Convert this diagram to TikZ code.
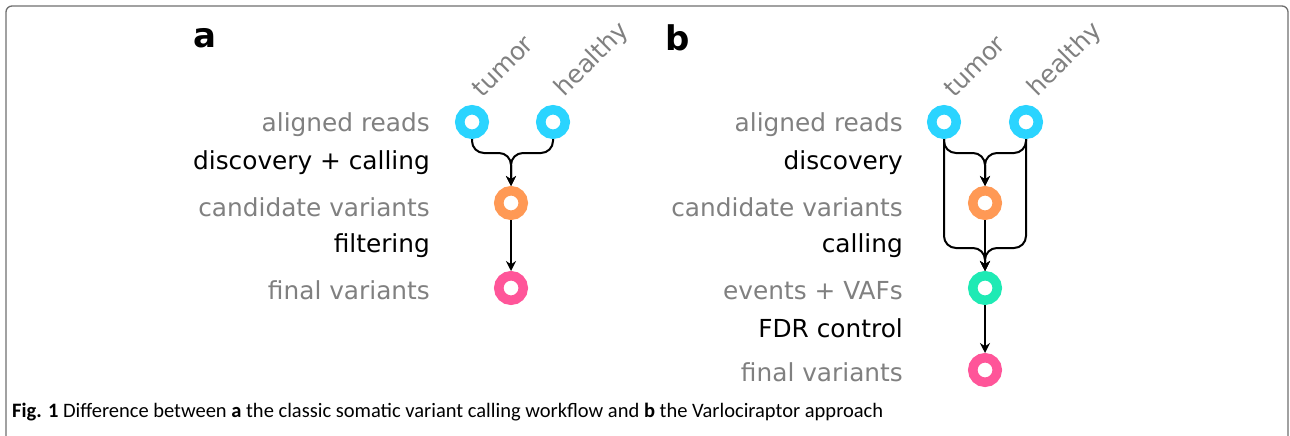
\documentclass[tikz,border=0pt]{standalone}
\usepackage{fontspec}
\setmainfont{DejaVu Sans}
\newfontfamily\capfont{Carlito}
\usetikzlibrary{arrows.meta,calc}
\definecolor{cyanc}{HTML}{2AD4FF}
\definecolor{orangec}{HTML}{FF9955}
\definecolor{pinkc}{HTML}{FF5599}
\definecolor{greenc}{HTML}{1EEAB4}
\definecolor{graytext}{HTML}{808080}
\definecolor{framec}{HTML}{6E6E6E}
\begin{document}
\begin{tikzpicture}[x=1pt,y=-1pt,
  ring/.style={circle,draw=#1,line width=9.5pt,fill=white,minimum size=24.5pt,inner sep=0pt,outer sep=4.75pt},
  stage/.style={anchor=east,yshift=-2.5pt,text=graytext,font=\fontsize{24.8}{28}\selectfont,inner sep=0pt},
  step lbl/.style={anchor=east,yshift=-2.5pt,text=black,font=\fontsize{24.8}{28}\selectfont,inner sep=0pt},
  sample/.style={anchor=base west,rotate=45,text=graytext,font=\fontsize{24.8}{28}\selectfont,inner sep=0pt},
  panel/.style={font=\bfseries\fontsize{34}{38}\selectfont,inner sep=0pt},
  conn/.style={line width=2pt,rounded corners=12pt,-{Stealth[length=10pt,width=10pt]}}
]
\useasboundingbox (0,0) rectangle (1290,436);
% frame
\draw[framec,line width=1.3pt,rounded corners=6pt] (6,440) -- (6,6) -- (1288,6) -- (1288,440);

% panel a
\node[panel] (pa) at (205,38) {a};
\node[ring=cyanc] (at) at (472,122) {};
\node[ring=cyanc] (ah) at (553,122) {};
\node[ring=orangec] (ao) at (511,203) {};
\node[ring=pinkc] (ap) at (511,288) {};
\node[sample] (att) at (482,99) {tumor};
\node[sample] (ahl) at (564,98) {healthy};
\node[stage] (a1) at (430,122) {aligned reads};
\node[step lbl] (a2) at (430,160) {discovery + calling};
\node[stage] (a3) at (430,205) {candidate variants};
\node[step lbl] (a4) at (430,243) {filtering};
\node[stage] (a5) at (430,288) {final variants};
\draw[conn] (at.south) |- ([yshift=33pt]ao.north) -- (ao.north);
\draw[conn] (ah.south) |- ([yshift=33pt]ao.north) -- (ao.north);
\draw[conn] (ao.south) -- (ap.north);

% panel b
\node[panel] (pb) at (678,38) {b};
\node[ring=cyanc] (bt) at (944,122) {};
\node[ring=cyanc] (bh) at (1026,122) {};
\node[ring=orangec] (bo) at (985,203) {};
\node[ring=greenc] (bg) at (985,288) {};
\node[ring=pinkc] (bp) at (985,370) {};
\node[sample] (btt) at (954,99) {tumor};
\node[sample] (bhl) at (1037,98) {healthy};
\node[stage] (b1) at (903,122) {aligned reads};
\node[step lbl] (b2) at (903,160) {discovery};
\node[stage] (b3) at (903,205) {candidate variants};
\node[step lbl] (b4) at (903,243) {calling};
\node[stage] (b5) at (903,288) {events + VAFs};
\node[step lbl] (b6) at (903,326) {FDR control};
\node[stage] (b7) at (903,370) {final variants};
\draw[conn] (bt.south) |- ([yshift=33pt]bo.north) -- (bo.north);
\draw[conn] (bh.south) |- ([yshift=33pt]bo.north) -- (bo.north);
\draw[conn] (bt.south) |- ([yshift=23pt]bg.north) -- (bg.north);
\draw[conn] (bh.south) |- ([yshift=23pt]bg.north) -- (bg.north);
\draw[conn] (bo.south) -- (bg.north);
\draw[conn] (bg.south) -- (bp.north);

% caption
\node[anchor=base west,inner sep=0pt,font=\capfont\fontsize{20.5}{24}\selectfont] (cap) at (12,417)
  {\textbf{Fig. 1} Difference between \textbf{a} the classic somatic variant calling workflow and \textbf{b} the Varlociraptor approach};
\end{tikzpicture}
\end{document}
